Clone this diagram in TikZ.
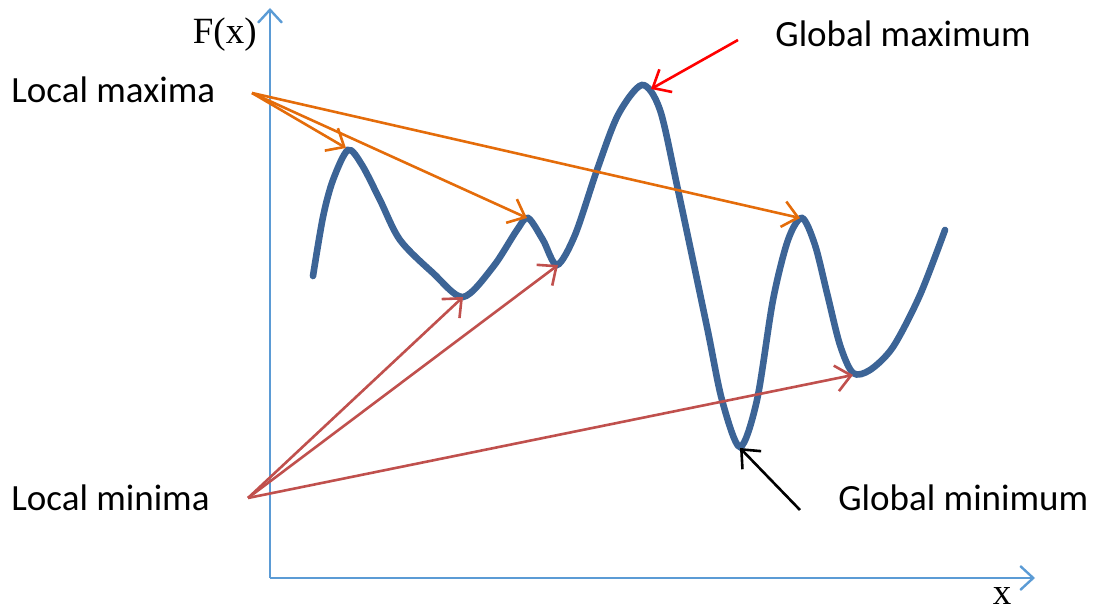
\documentclass[tikz,border=0pt]{standalone}
\usepackage{fontspec}
\setmainfont{Carlito}
\newfontfamily\serifaxis{Liberation Serif}
\usepackage{xcolor}
\usetikzlibrary{arrows.meta}
\definecolor{axisblue}{RGB}{91,155,213}
\definecolor{curveblue}{RGB}{60,100,150}
\definecolor{maxorange}{RGB}{228,108,10}
\definecolor{minred}{RGB}{192,80,77}

\begin{document}
\begin{tikzpicture}[
  x=0.5pt, y=-0.5pt,
  axis/.style={axisblue, line width=1.2pt, -{Straight Barb[length=6.5pt, width=12pt, line width=1.2pt]}},
  fcurve/.style={curveblue, line width=3.3pt, line cap=round},
  arr/.style={line width=1.3pt, -{Straight Barb[length=7.5pt, width=13pt, line width=1.3pt]}},
  lbl/.style={font=\fontsize{18.5}{22}\selectfont, anchor=base west, inner sep=0pt},
  axlbl/.style={font=\fontsize{18.5}{22}\selectfont\serifaxis, inner sep=0pt},
]
\useasboundingbox (0,0) rectangle (1100,614);

% axes
\coordinate (o) at (270,578);
\coordinate (ytip) at (270,8);
\coordinate (xtip) at (1035,578);
\draw[axis] (o) -- (ytip);
\draw[axis] (o) -- (xtip);
\node[axlbl, anchor=base east] (fx) at (257,44) {F(x)};
\node[axlbl, anchor=base] (xl) at (1002,605) {x};

% the function
\draw[fcurve] plot[smooth, tension=0.5] coordinates {
  (313,276) (323,217) (333,180) (348,150) (362,165) (380,200) (400,240)
  (433,273) (463,297) (493,267) (517,230) (528,218) (543,240) (557,265)
  (575,235) (597,170) (618,115) (642,85) (660,110) (678,190) (707,327)
  (722,400) (740,447) (757,400) (773,300) (788,240) (802,218) (815,245)
  (827,293) (840,345) (853,373) (870,370) (893,347) (920,295) (945,230)};

% extrema
\coordinate (max1) at (346,148);
\coordinate (max2) at (527,218);
\coordinate (max3) at (800,218);
\coordinate (min1) at (463,297);
\coordinate (min2) at (558,265);
\coordinate (min3) at (853,375);
\coordinate (gmax) at (651,89);
\coordinate (gmin) at (740,448);

% labels
\node[lbl] (lmax) at (11,103) {Local maxima};
\node[lbl] (lmin) at (11,511) {Local minima};
\node[lbl] (gmaxl) at (775,47) {Global maximum};
\node[lbl] (gminl) at (838,511) {Global minimum};
\coordinate (lmaxo) at (252,93);
\coordinate (lmino) at (248,498);
\coordinate (gmaxo) at (738,40);
\coordinate (gmino) at (800,510);

\draw[arr, maxorange] (lmaxo) -- (max1);
\draw[arr, maxorange] (lmaxo) -- (max2);
\draw[arr, maxorange] (lmaxo) -- (max3);
\draw[arr, minred] (lmino) -- (min1);
\draw[arr, minred] (lmino) -- (min2);
\draw[arr, minred] (lmino) -- (min3);
\draw[arr, red] (gmaxo) -- (gmax);
\draw[arr, black] (gmino) -- (gmin);
\end{tikzpicture}
\end{document}
